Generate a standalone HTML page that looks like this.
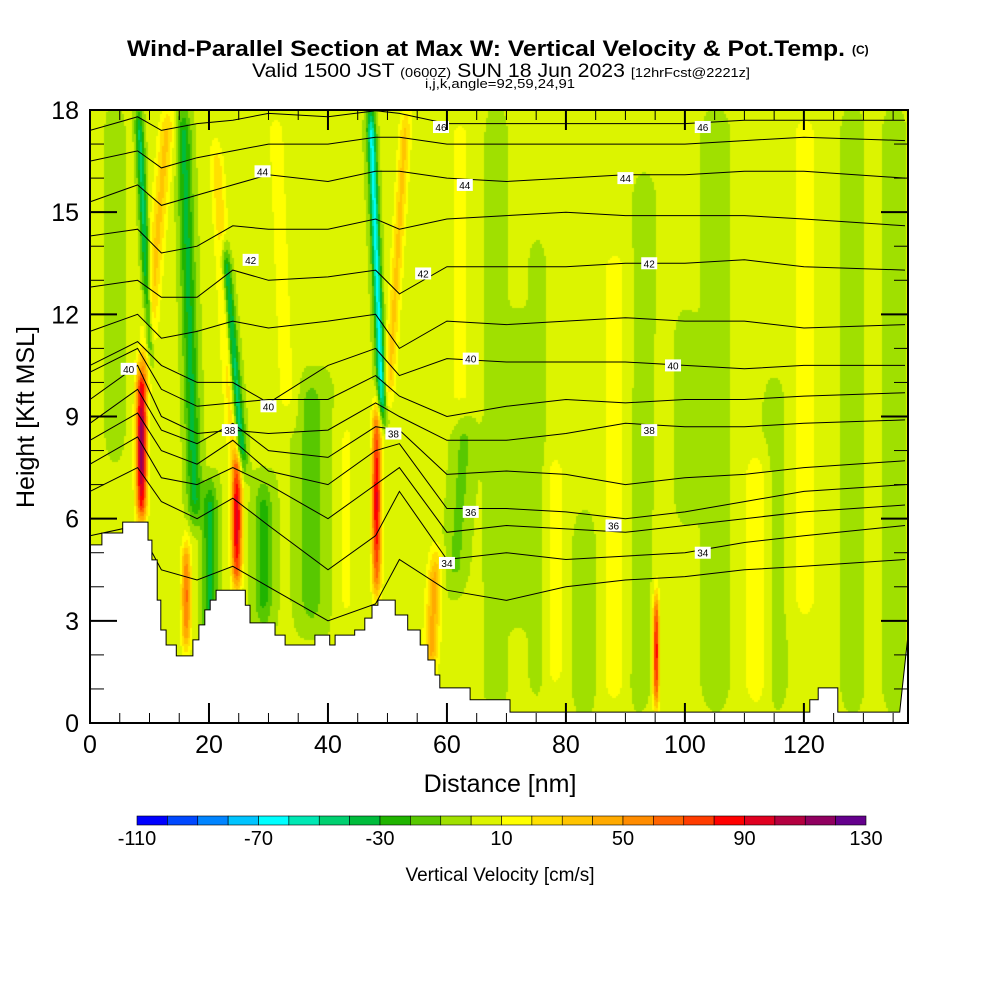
<!DOCTYPE html>
<html><head><meta charset="utf-8">
<style>
html,body{margin:0;padding:0;background:#fff;width:1000px;height:1000px;overflow:hidden}
#wrap{position:relative;width:1000px;height:1000px}
#field{position:absolute;left:90px;top:110px}
#ov{position:absolute;left:0;top:0}
text{font-family:"Liberation Sans Narrow","Liberation Sans",sans-serif}
</style></head>
<body>
<div id="wrap">
<canvas id="field" width="818" height="613"></canvas>
<svg id="ov" width="1000" height="1000">
<g id="contours"></g>
<g id="terrain"></g>
<g id="labels"></g>
<g id="axes"></g>
<g id="cbar"></g>
<text x="127" y="56" font-size="22" font-weight="bold" textLength="718" lengthAdjust="spacingAndGlyphs">Wind-Parallel Section at Max W: Vertical Velocity &amp; Pot.Temp.</text>
<text x="852" y="54" font-size="12" font-weight="bold">(C)</text>
<text x="252" y="77" font-size="19" textLength="498" lengthAdjust="spacingAndGlyphs"><tspan>Valid 1500 JST </tspan><tspan font-size="13">(0600Z)</tspan><tspan> SUN 18 Jun 2023 </tspan><tspan font-size="13">[12hrFcst@2221z]</tspan></text>
<text x="425" y="88" font-size="13" textLength="150" lengthAdjust="spacingAndGlyphs">i,j,k,angle=92,59,24,91</text>
<text x="500" y="792" font-size="25" text-anchor="middle">Distance [nm]</text>
<text transform="translate(34,417) rotate(-90)" font-size="25" text-anchor="middle">Height [Kft MSL]</text>
<text x="500" y="881" font-size="19" text-anchor="middle">Vertical Velocity [cm/s]</text>
</svg>
</div>
<script>
// ---- data ----
const cbLevels = [-110,-100,-90,-80,-70,-60,-50,-40,-30,-20,-10,0,10,20,30,40,50,60,70,80,90,100,110,120,130];
const cbColors = ["#0000ff","#0048ff","#0084ff","#00c4ff","#00ffff","#00e8b4","#00d070","#00bc3c","#20b400","#58c800","#a0e000","#dcf400","#ffff00","#ffe000","#ffc400","#ffaa00","#ff8c00","#ff6400","#ff3c00","#ff0000","#e00020","#b40040","#900060","#64008c"];
const cbTickLabels = [-110,-70,-30,10,50,90,130];
const xTicks = [0,20,40,60,80,100,120];
const yTicks = [0,3,6,9,12,15,18];
const baseW = 3;
// streak features: x (nm), z0, z1 (kft), tilt (nm shift at top), amplitude (cm/s), half-width (nm)
const fX    = [8.5,9,16,24.5,24,48,50,57,95,10,17.5,25.5,49,20,29,37,61,68,75,83,92,105,115,128,135,88,112,78,62,30,44,72,100,120,4,33,43];
const fZ0   = [5.8,10,2,3.8,8,3.6,9.5,1.5,0.3,10.5,6,7.5,9,2,3,3,4,0.5,1,0.5,0.5,0.5,0.5,0.5,0.5,0.5,0.5,1,9,0,0,3,6,3,8,9,3];
const fZ1   = [10.5,18,5.5,8.2,17,9.5,18,5,4,18,18,14,18,7,7,10,9,18,14,6,16,18,10,18,18,14,8,8,18,18,18,12,12,18,18,18,9];
const fTilt = [0,4,0,0,-3,0,3,1,0,-2,-2,-3,-2,0,0,0,2,0,0,0,1,0,0,0,0,0,0,0,0,0,0,0,0,0,0,-2,0];
const fAmp  = [115,30,60,95,25,90,30,40,85,-45,-35,-55,-65,-35,-25,-18,-15,-9,-9,-12,-9,-8,-9,-9,-9,10,12,10,8,-2,-2,-8,-8,10,-12,12,12];
const fHW   = [0.9,1.3,0.8,0.9,1.2,0.8,1.0,1.2,0.5,0.7,1.2,0.8,0.7,1.2,1.5,2,2,2,1.5,2,2,2.5,2,2,2,2.5,2.5,2,3,15,6,2,2,2.5,1.5,2,1.5];
// theta contours
const thLevels = [33,34,35,36,37,38,39,40,41,42,43,44,45,46];
const thX = [0,8,12,18,24,30,40,48,52,60,70,80,90,100,110,120,137];
const thZ = [
[5.5,5.8,4.5,4.2,4.6,4.0,3.0,3.5,4.8,3.9,3.6,4.0,4.2,4.3,4.5,4.6,4.8],
[6.8,7.5,6.5,6.0,6.6,5.8,4.5,5.5,6.8,4.8,5.0,4.8,4.9,5.0,5.3,5.5,5.8],
[7.6,8.4,7.2,7.0,7.5,7.0,6.0,7.0,7.5,5.6,5.8,5.7,5.6,5.8,6.0,6.2,6.4],
[8.3,9.1,8.0,7.6,8.3,7.4,7.0,8.0,8.2,6.3,6.3,6.2,6.0,6.2,6.5,6.8,7.0],
[8.8,9.8,8.6,8.2,8.8,8.0,7.8,8.7,8.6,7.3,7.4,7.3,7.0,7.2,7.3,7.5,7.7],
[9.5,10.5,9.0,8.5,8.6,8.5,8.6,9.4,9.0,8.3,8.3,8.5,8.8,8.7,8.7,8.8,8.9],
[10.3,11.0,9.8,9.3,9.4,9.5,9.5,10.2,9.6,9.0,9.3,9.5,9.4,9.5,9.5,9.6,9.7],
[10.5,11.2,10.5,10.0,10.0,9.4,10.5,11.0,10.2,10.7,10.6,10.6,10.6,10.5,10.4,10.5,10.5],
[11.5,12.0,11.3,11.5,11.8,11.6,11.8,12.0,11.0,11.8,11.7,11.8,11.9,11.8,11.8,11.6,11.7],
[12.8,13.0,12.5,12.5,13.3,13.0,13.1,13.3,12.6,13.4,13.4,13.4,13.5,13.5,13.6,13.4,13.3],
[14.3,14.5,13.8,14.0,14.6,14.5,14.5,14.8,14.5,14.8,14.9,15.0,14.9,14.9,14.9,14.8,14.6],
[15.3,15.8,15.2,15.5,15.8,16.1,15.9,16.2,16.2,16.0,15.9,16.0,16.1,16.1,16.2,16.2,16.0],
[16.5,16.8,16.3,16.6,16.8,17.0,17.0,17.2,17.2,17.0,17.0,17.0,17.0,17.0,17.1,17.2,17.1],
[17.4,17.8,17.4,17.6,17.7,17.9,17.8,18.0,17.9,17.6,17.6,17.6,17.6,17.6,17.7,17.7,17.7]];
const lblText = [46,46,44,44,44,42,42,42,40,40,40,40,38,38,38,36,36,34,34];
const lblX    = [59,103,29,63,90,27,56,94,6.5,30,64,98,23.5,51,94,64,88,60,103];
const lblZ    = [17.5,17.5,16.2,15.8,16.0,13.6,13.2,13.5,10.4,9.3,10.7,10.5,8.6,8.5,8.6,6.2,5.8,4.7,5.0];
const terrX = [0,2.0,2.0,5.5,5.5,9.75,9.75,10.4,10.4,11.3,11.3,11.9,11.9,12.8,12.8,14.5,14.5,17.3,17.3,18.3,18.3,19.3,19.3,20.2,20.2,21.2,21.2,26.1,26.1,26.9,26.9,31.1,31.1,32.8,32.8,37.8,37.8,40.3,40.3,41.2,41.2,44.5,44.5,46.2,46.2,47.4,47.4,48.4,48.4,51.3,51.3,53.4,53.4,55.5,55.5,56.8,56.8,58.0,58.0,58.8,58.8,63.9,63.9,70.6,70.6,121,121,122.4,122.4,125.7,125.7,136.1,137.5];
const terrZ = [5.23,5.23,5.58,5.58,5.9,5.9,5.37,5.37,4.79,4.79,3.61,3.61,2.73,2.73,2.29,2.29,1.97,1.97,2.44,2.44,2.88,2.88,3.32,3.32,3.61,3.61,3.9,3.9,3.46,3.46,2.94,2.94,2.58,2.58,2.29,2.29,2.58,2.58,2.29,2.29,2.58,2.58,2.73,2.73,3.08,3.08,3.46,3.46,3.61,3.61,3.17,3.17,2.73,2.73,2.29,2.29,1.85,1.85,1.41,1.41,1.03,1.03,0.68,0.68,0.32,0.32,0.68,0.68,1.03,1.03,0.32,0.32,2.58];

// ---- axes ----
const PL=90, PR=908, PT=110, PB=723, XMAX=137.5, ZMAX=18;
const sx = v => PL + v/XMAX*(PR-PL);
const sz = v => PB - v/ZMAX*(PB-PT);
const NS='http://www.w3.org/2000/svg';
function mk(tag, attrs, parent){const e=document.createElementNS(NS,tag);for(const k in attrs)e.setAttribute(k,attrs[k]);parent.appendChild(e);return e;}

// ---- field ----
function wAt(x,z){
  let v=baseW;
  for(let i=0;i<fX.length;i++){
    const z0=fZ0[i], z1=fZ1[i];
    if(z<z0-1||z>z1+1) continue;
    const t=Math.min(1,Math.max(0,(z-z0)/(z1-z0)));
    const xc=fX[i]+fTilt[i]*t;
    const dx=(x-xc)/fHW[i];
    const ez=Math.min(1,Math.max(0,(z-z0+0.6)/1.2))*Math.min(1,Math.max(0,(z1+0.6-z)/1.2));
    const taper=(fAmp[i]>40)?Math.sin(Math.PI*Math.min(1,Math.max(0,t*0.9+0.05))):1;
    v+=fAmp[i]*Math.exp(-dx*dx)*ez*(fAmp[i]>40?(0.35+0.65*taper):1);
  }
  return v;
}
(function(){
  const cv=document.getElementById('field'), ctx=cv.getContext('2d');
  const W=cv.width,H=cv.height, img=ctx.createImageData(W,H);
  const rgb=cbColors.map(c=>[parseInt(c.substr(1,2),16),parseInt(c.substr(3,2),16),parseInt(c.substr(5,2),16)]);
  for(let py=0;py<H;py+=2){
    const z=(H-py)/H*ZMAX;
    for(let px=0;px<W;px+=2){
      const x=px/W*XMAX;
      const v=wAt(x,z);
      let b=Math.floor((v-cbLevels[0])/10); b=Math.max(0,Math.min(rgb.length-1,b));
      const c=rgb[b];
      for(let dy=0;dy<2;dy++)for(let dx=0;dx<2;dx++){
        if(py+dy>=H||px+dx>=W)continue;
        const k=((py+dy)*W+px+dx)*4; img.data[k]=c[0];img.data[k+1]=c[1];img.data[k+2]=c[2];img.data[k+3]=255;
      }
    }
  }
  ctx.putImageData(img,0,0);
})();

// ---- contours ----
const gC=document.getElementById('contours');
thLevels.forEach((lev,i)=>{
  let d='';
  thX.forEach((x,j)=>{d+=(j?'L':'M')+sx(x).toFixed(1)+','+sz(Math.min(thZ[i][j],17.98)).toFixed(1);});
  const p=mk('path',{d:d,fill:'none',stroke:'#000','stroke-width':1},gC);
  
  
});
// ---- terrain ----
(function(){
  let d='M'+sx(0)+','+sz(0);
  terrX.forEach((x,j)=>{d+='L'+sx(x).toFixed(1)+','+sz(terrZ[j]).toFixed(1);});
  d+='L'+sx(XMAX)+','+sz(0)+'Z';
  const p=mk('path',{d:d,fill:'#fff',stroke:'#000','stroke-width':1},document.getElementById('terrain'));
  
  
})();
// ---- contour labels ----
const gL=document.getElementById('labels');
lblText.forEach((t,i)=>{
  const g=mk('g',{transform:'translate('+sx(lblX[i])+','+sz(lblZ[i])+')'},gL);
  
  
  mk('rect',{x:-8,y:-6,width:16,height:12,fill:'#fff'},g);
  const tx=mk('text',{x:0,y:4,'font-size':10,'text-anchor':'middle'},g); tx.textContent=t;
});
// ---- axes ----
const gA=document.getElementById('axes');
mk('rect',{x:PL,y:PT,width:PR-PL,height:PB-PT,fill:'none',stroke:'#000','stroke-width':2},gA);
for(let v=0;v<=ZMAX;v++){
  const maj=v%3===0, L=maj?27:14, y=sz(v);
  mk('line',{x1:PL,y1:y,x2:PL+L,y2:y,stroke:'#000','stroke-width':maj?2:1},gA);
  mk('line',{x1:PR,y1:y,x2:PR-L,y2:y,stroke:'#000','stroke-width':maj?2:1},gA);
}
for(let v=0;v<=135;v+=5){
  const maj=v%20===0, L=maj?20:10, x=sx(v);
  mk('line',{x1:x,y1:PB,x2:x,y2:PB-L,stroke:'#000','stroke-width':maj?2:1},gA);
  mk('line',{x1:x,y1:PT,x2:x,y2:PT+L,stroke:'#000','stroke-width':maj?2:1},gA);
}
yTicks.forEach(v=>{
  const t=mk('text',{x:79,y:sz(v)+9,'font-size':25,'text-anchor':'end'},gA);
  
  
  t.textContent=v;
});
xTicks.forEach(v=>{
  const t=mk('text',{x:sx(v),y:753,'font-size':25,'text-anchor':'middle'},gA);
  
  
  t.textContent=v;
});
// ---- colorbar ----
const gB=document.getElementById('cbar');
const CB0=137, CB1=866, CBT=816, CBH=9;
const cbx = v => CB0 + (v-cbLevels[0])/(cbLevels[cbLevels.length-1]-cbLevels[0])*(CB1-CB0);
cbColors.forEach((c,i)=>{
  const r=mk('rect',{x:cbx(cbLevels[i]),y:CBT,width:cbx(cbLevels[i+1])-cbx(cbLevels[i]),height:CBH,fill:c,stroke:'#000','stroke-width':0.6},gB);
  
  
});
cbTickLabels.forEach(v=>{
  const t=mk('text',{x:cbx(v),y:845,'font-size':20,'text-anchor':'middle'},gB);
  
  
  t.textContent=v;
});
</script>
</body></html>
